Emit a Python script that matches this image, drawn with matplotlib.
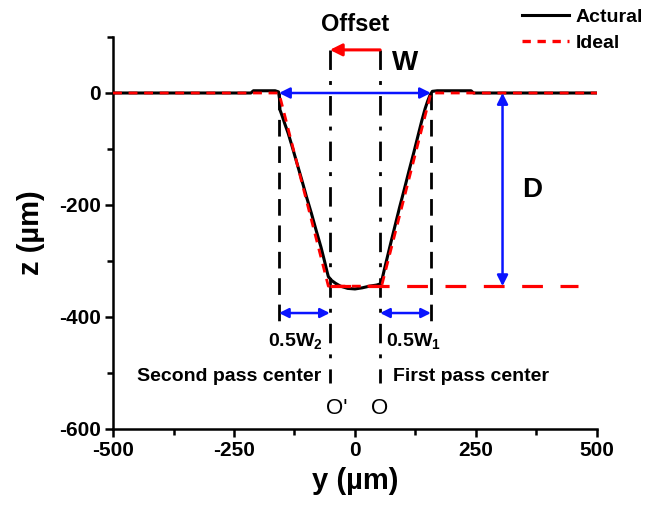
import matplotlib
matplotlib.use("Agg")
import matplotlib.pyplot as plt
from matplotlib.ticker import MultipleLocator
from matplotlib.lines import Line2D

plt.rcParams['font.family'] = ['Liberation Sans', 'DejaVu Sans']
plt.rcParams['font.weight'] = 'bold'
plt.rcParams['axes.labelweight'] = 'bold'
plt.rcParams['axes.unicode_minus'] = False

# measured trench profile
actual_y = [-500, -215, -210, -165, -158, -156, -155, -150, -145, -138, -130, -120,
            -110, -100, -90, -80, -70, -63, -58, -55, -48, -40, -30, -15, 0, 15,
            30, 45, 52, 56, 60, 65, 72, 82, 92, 102, 112, 122, 131, 138, 145, 150,
            155, 160, 170, 240, 245, 500]
actual_z = [0, 0, 4, 4, 2, -10, -30, -42, -55, -72, -95, -125,
            -155, -186, -215, -246, -276, -300, -318, -328, -335, -340, -345, -349, -350, -348,
            -345, -343, -341, -333, -318, -300, -275, -240, -205, -172, -138, -105, -74, -50, -28, -15,
            -4, 3, 4, 4, 0, 0]

# ideal trapezoid
ideal_y = [-500, -157, -55, 55, 157, 500]
ideal_z = [0, 0, -345, -345, 0, 0]

depth = -345
half_w = 157
center_second = -52
center_first = 52

fig = plt.figure(figsize=(6.61, 5.07), dpi=100)
ax = fig.add_axes([0.171, 0.154, 0.732, 0.773])

ax.plot(actual_y, actual_z, color='black', lw=2.2, zorder=3)
ax.plot(ideal_y, ideal_z, color='red', lw=2.0, linestyle=(0, (3.2, 2.4)), zorder=4)
ax.plot([center_second, 462], [depth, depth], color='red', lw=2.3,
        linestyle=(0, (6.5, 5.5)), zorder=4)

# pass boundaries and centres
for xv in (-half_w, half_w):
    ax.plot([xv, xv], [0, -412], color='black', lw=2.0, linestyle=(0, (6, 3.5)), zorder=2)
for xv in (center_second, center_first):
    ax.plot([xv, xv], [77, -518], color='black', lw=2.0,
            linestyle=(0, (7, 4, 1.4, 4)), zorder=2)

blue = '#0a14ff'
ax.annotate('', xy=(half_w, 0), xytext=(-half_w, 0),
            arrowprops=dict(arrowstyle='<|-|>', color=blue, lw=1.8, mutation_scale=16,
                            shrinkA=0, shrinkB=0), zorder=5)
ax.annotate('', xy=(305, depth), xytext=(305, 0),
            arrowprops=dict(arrowstyle='<|-|>', color=blue, lw=1.8, mutation_scale=16,
                            shrinkA=0, shrinkB=0), zorder=5)
ax.annotate('', xy=(center_second, -393), xytext=(-half_w, -393),
            arrowprops=dict(arrowstyle='<|-|>', color=blue, lw=1.8, mutation_scale=14,
                            shrinkA=0, shrinkB=0), zorder=5)
ax.annotate('', xy=(half_w, -393), xytext=(center_first, -393),
            arrowprops=dict(arrowstyle='<|-|>', color=blue, lw=1.8, mutation_scale=14,
                            shrinkA=0, shrinkB=0), zorder=5)
ax.annotate('', xy=(center_second, 77), xytext=(center_first, 77),
            arrowprops=dict(arrowstyle='-|>', color='red', lw=2.2, mutation_scale=18,
                            shrinkA=0, shrinkB=0), zorder=5)

ax.text(0, 123, 'Offset', ha='center', va='center', fontsize=17)
ax.text(104, 54, 'W', ha='center', va='center', fontsize=20)
ax.text(366, -173, 'D', ha='center', va='center', fontsize=20)
ax.text(-124, -445, r'0.5W$_\mathregular{2}$', ha='center', va='center', fontsize=14)
ax.text(120, -445, r'0.5W$_\mathregular{1}$', ha='center', va='center', fontsize=14)
ax.text(-70, -507, 'Second pass center', ha='right', va='center', fontsize=14)
ax.text(78, -507, 'First pass center', ha='left', va='center', fontsize=14)
ax.text(-60, -563, "O'", ha='left', va='center', fontsize=16, fontweight='normal')
ax.text(center_first, -563, 'O', ha='center', va='center', fontsize=16, fontweight='normal')

ax.set_xlim(-500, 500)
ax.set_ylim(-600, 100)
ax.xaxis.set_major_locator(MultipleLocator(250))
ax.xaxis.set_minor_locator(MultipleLocator(125))
ax.yaxis.set_major_locator(MultipleLocator(200))
ax.yaxis.set_minor_locator(MultipleLocator(100))
ax.tick_params(which='major', direction='out', length=6, width=1.8, labelsize=15, pad=3)
ax.tick_params(which='minor', direction='out', length=4, width=1.8)
for s in ('top', 'right'):
    ax.spines[s].set_visible(False)
for s in ('left', 'bottom'):
    ax.spines[s].set_linewidth(1.8)

ax.set_xlabel('y (µm)', fontsize=21, labelpad=5)
ax.set_ylabel('z (µm)', fontsize=21, labelpad=10)

handles = [Line2D([], [], color='black', lw=2.2),
           Line2D([], [], color='red', lw=2.4, linestyle=(0, (2.5, 2)))]
fig.legend(handles, ['Actural', 'Ideal'], loc='upper left', bbox_to_anchor=(0.79, 0.983),
           frameon=False, fontsize=14, handlelength=2.4, handletextpad=0.35,
           labelspacing=0.4, borderpad=0, borderaxespad=0)

fig.savefig('out.png', dpi=100)
